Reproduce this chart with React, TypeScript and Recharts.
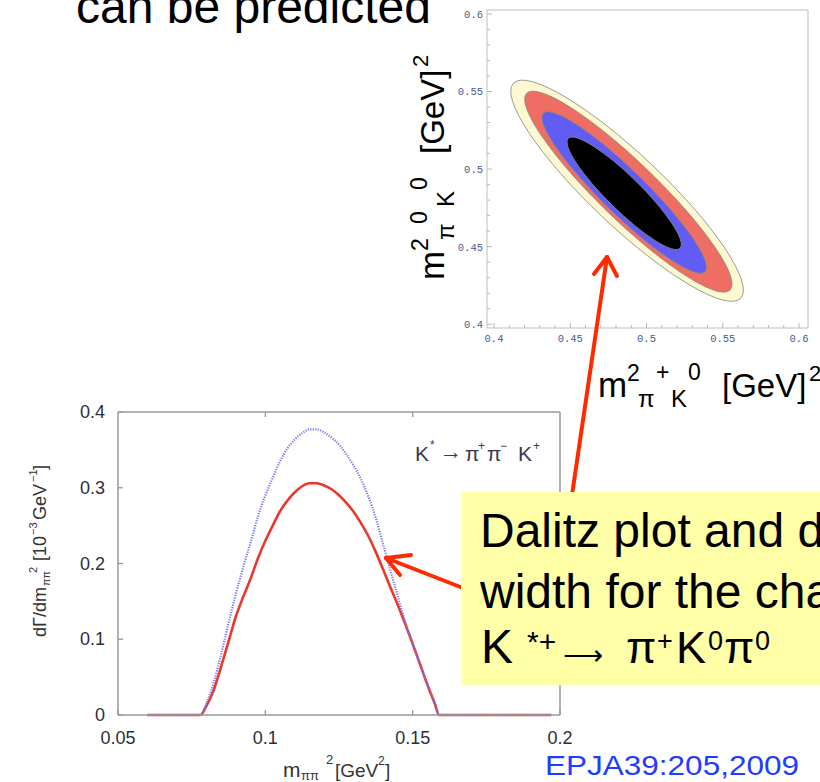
import React from "react";
import { LineChart, Line, XAxis, YAxis, ScatterChart, Scatter } from "recharts";

const SANS = "'Liberation Sans', Arial, Helvetica, sans-serif";
const MONO = "'Liberation Mono', 'Courier New', monospace";

// lower plot: dGamma/dm_pipi^2 [10^-3 GeV^-1] vs m_pipi^2 [GeV^2]
const massSq = [
  0.06, 0.065, 0.07, 0.075, 0.078, 0.08, 0.0825, 0.085, 0.0875, 0.09, 0.0925, 0.095,
  0.0975, 0.1, 0.1025, 0.105, 0.1075, 0.11, 0.1125, 0.115, 0.1175, 0.12, 0.1225, 0.125,
  0.1275, 0.13, 0.1325, 0.135, 0.1375, 0.14, 0.1425, 0.145, 0.1475, 0.15, 0.1525, 0.155,
  0.1575, 0.159, 0.165, 0.17, 0.175, 0.18, 0.185, 0.19, 0.197,
];
// blue dotted curve
const widthDotted = [
  0, 0, 0, 0, 0, 0.015, 0.043, 0.08, 0.121, 0.16, 0.195, 0.228,
  0.262, 0.29, 0.313, 0.335, 0.352, 0.364, 0.372, 0.377, 0.377, 0.373, 0.366, 0.357,
  0.344, 0.329, 0.311, 0.288, 0.26, 0.225, 0.19, 0.156, 0.123, 0.094, 0.067, 0.04,
  0.017, 0, 0, 0, 0, 0, 0, 0, 0,
];
// red solid curve
const widthSolid = [
  0, 0, 0, 0, 0, 0.012, 0.033, 0.064, 0.097, 0.13, 0.156, 0.18,
  0.207, 0.23, 0.25, 0.269, 0.283, 0.294, 0.302, 0.306, 0.306, 0.303, 0.298, 0.29,
  0.28, 0.268, 0.253, 0.236, 0.215, 0.192, 0.168, 0.145, 0.12, 0.094, 0.067, 0.04,
  0.015, 0, 0, 0, 0, 0, 0, 0, 0,
];
const lowerXTicks = [0.05, 0.1, 0.15, 0.2];
const lowerYTicks = [0, 0.1, 0.2, 0.3, 0.4];

// Dalitz contours: both ends of the long axis, then the end of the short axis
const outerX = [0.4127, 0.5618, 0.5034];
const outerY = [0.5553, 0.4168, 0.5029];
const redX = [0.4214, 0.5548, 0.5013];
const redY = [0.5488, 0.4221, 0.4988];
const blueX = [0.4323, 0.5384, 0.4955];
const blueY = [0.536, 0.4339, 0.495];
const coreX = [0.4487, 0.522, 0.4931];
const coreY = [0.5198, 0.449, 0.4922];

const dalitzMajor = [0.4, 0.45, 0.5, 0.55, 0.6];
const dalitzTicks = [
  0.4, 0.41, 0.42, 0.43, 0.44, 0.45, 0.46, 0.47, 0.48, 0.49, 0.5,
  0.51, 0.52, 0.53, 0.54, 0.55, 0.56, 0.57, 0.58, 0.59, 0.6,
];

const lowerData = massSq.map((m, i) => ({ m, dotted: widthDotted[i], solid: widthSolid[i] }));
const toPts = (xs: number[], ys: number[]) => xs.map((x, i) => ({ x, y: ys[i] }));

const contours = [
  { key: "outer", fill: "#fdf8d2", pts: toPts(outerX, outerY) },
  { key: "red", fill: "#ee6e64", pts: toPts(redX, redY) },
  { key: "blue", fill: "#615cf3", pts: toPts(blueX, blueY) },
  { key: "core", fill: "#000000", pts: toPts(coreX, coreY) },
];

const isMajor = (v: number) => dalitzMajor.some((t) => Math.abs(t - v) < 1e-6);
const fmtDalitz = (v: number) => String(Math.round(v * 100) / 100);

// ellipse through the three pixel points the Scatter hands over
function ellipseLine(fill: string) {
  return (p: any) => {
    const pts = p.points as { x: number; y: number }[];
    if (!pts || pts.length < 3) return <g />;
    const [a, b, c] = pts;
    const dx = b.x - a.x;
    const dy = b.y - a.y;
    const len = Math.hypot(dx, dy);
    const ry = Math.abs((c.x - a.x) * dy - (c.y - a.y) * dx) / len;
    const cx = (a.x + b.x) / 2;
    const cy = (a.y + b.y) / 2;
    const ang = (Math.atan2(dy, dx) * 180) / Math.PI;
    return (
      <ellipse
        cx={cx}
        cy={cy}
        rx={len / 2}
        ry={ry}
        transform={`rotate(${ang} ${cx} ${cy})`}
        fill={fill}
        stroke="#8a8a80"
        strokeWidth={0.8}
      />
    );
  };
}

const noDot = () => <g />;

// ---- tick renderers ----
const LowerBottomTick = ({ x, y, payload }: any) => (
  <g>
    <line x1={x} x2={x} y1={y} y2={y - 5} stroke="#999" strokeWidth={1.3} />
    <text x={x} y={y + 29} textAnchor="middle" fontSize={18} fill="#2e2e3a" fontFamily={SANS}>
      {payload.value}
    </text>
  </g>
);
const LowerTopTick = ({ x, y }: any) => (
  <line x1={x} x2={x} y1={y} y2={y + 5} stroke="#999" strokeWidth={1.3} />
);
const LowerLeftTick = ({ x, y, payload }: any) => (
  <g>
    <line x1={x} x2={x + 5} y1={y} y2={y} stroke="#999" strokeWidth={1.3} />
    <text x={x - 13} y={y + 6} textAnchor="end" fontSize={18} fill="#2e2e3a" fontFamily={SANS}>
      {payload.value}
    </text>
  </g>
);
const LowerRightTick = ({ x, y }: any) => (
  <line x1={x} x2={x - 5} y1={y} y2={y} stroke="#999" strokeWidth={1.3} />
);

const DalitzBottomTick = ({ x, y, payload }: any) => {
  const major = isMajor(payload.value);
  return (
    <g>
      <line x1={x} x2={x} y1={y} y2={y - (major ? 5 : 3)} stroke="#b8b8b8" />
      {major && (
        <text x={x} y={y + 14} textAnchor="middle" fontSize={10.5} fill="#4d5890" fontFamily={MONO}>
          {fmtDalitz(payload.value)}
        </text>
      )}
    </g>
  );
};
const DalitzTopTick = ({ x, y, payload }: any) => (
  <line x1={x} x2={x} y1={y} y2={y + (isMajor(payload.value) ? 5 : 3)} stroke="#b8b8b8" />
);
const DalitzLeftTick = ({ x, y, payload }: any) => {
  const major = isMajor(payload.value);
  return (
    <g>
      <line x1={x} x2={x + (major ? 5 : 3)} y1={y} y2={y} stroke="#b8b8b8" />
      {major && (
        <text x={x - 4} y={y + 4} textAnchor="end" fontSize={10.5} fill="#4d5890" fontFamily={MONO}>
          {fmtDalitz(payload.value)}
        </text>
      )}
    </g>
  );
};
const DalitzRightTick = ({ x, y, payload }: any) => (
  <line x1={x} x2={x - (isMajor(payload.value) ? 5 : 3)} y1={y} y2={y} stroke="#b8b8b8" />
);

function Arrow({ from, to, wings }: { from: number[]; to: number[]; wings: number[][] }) {
  return (
    <g stroke="#ff2a00" strokeWidth={4} strokeLinecap="round" fill="none">
      <line x1={from[0]} y1={from[1]} x2={to[0]} y2={to[1]} />
      {wings.map((w, i) => (
        <line key={i} x1={to[0]} y1={to[1]} x2={w[0]} y2={w[1]} />
      ))}
    </g>
  );
}

export default function App() {
  const frame = { stroke: "#999", strokeWidth: 1.5 };
  const dFrame = { stroke: "#bdbdbd", strokeWidth: 1 };
  return (
    <div
      style={{
        position: "absolute",
        left: 0,
        top: 0,
        width: 820,
        height: 782,
        background: "#fff",
        overflow: "hidden",
      }}
    >
      {/* Dalitz plot */}
      <div style={{ position: "absolute", left: 440, top: 0 }}>
        <ScatterChart width={380} height={360} margin={{ top: 6, right: 8, left: 0, bottom: 4 }}>
          <XAxis
            xAxisId="b"
            dataKey="x"
            type="number"
            domain={[0.3954, 0.6059]}
            ticks={dalitzTicks}
            interval={0}
            height={28}
            tickSize={0}
            tickMargin={0}
            tickLine={false}
            axisLine={dFrame}
            tick={<DalitzBottomTick />}
          />
          <XAxis
            xAxisId="t"
            orientation="top"
            dataKey="x"
            type="number"
            domain={[0.3954, 0.6059]}
            ticks={dalitzTicks}
            interval={0}
            height={4}
            tickSize={0}
            tickMargin={0}
            tickLine={false}
            axisLine={dFrame}
            tick={<DalitzTopTick />}
          />
          <YAxis
            yAxisId="l"
            dataKey="y"
            type="number"
            domain={[0.3976, 0.6025]}
            ticks={dalitzTicks}
            interval={0}
            width={47}
            tickSize={0}
            tickMargin={0}
            tickLine={false}
            axisLine={dFrame}
            tick={<DalitzLeftTick />}
          />
          <YAxis
            yAxisId="r"
            orientation="right"
            dataKey="y"
            type="number"
            domain={[0.3976, 0.6025]}
            ticks={dalitzTicks}
            interval={0}
            width={4}
            tickSize={0}
            tickMargin={0}
            tickLine={false}
            axisLine={dFrame}
            tick={<DalitzRightTick />}
          />
          {contours.map((c) => (
            <Scatter
              key={c.key}
              xAxisId="b"
              yAxisId="l"
              data={c.pts}
              fill={c.fill}
              line={ellipseLine(c.fill)}
              lineType="joint"
              shape={noDot}
              isAnimationActive={false}
            />
          ))}
        </ScatterChart>
      </div>

      {/* decay width plot */}
      <div style={{ position: "absolute", left: 0, top: 390 }}>
        <LineChart width={600} height={392} data={lowerData} margin={{ top: 12, right: 30, left: 0, bottom: 7 }}>
          <XAxis
            xAxisId="b"
            dataKey="m"
            type="number"
            domain={[0.05, 0.2]}
            ticks={lowerXTicks}
            interval={0}
            height={60}
            tickSize={0}
            tickMargin={0}
            tickLine={false}
            axisLine={frame}
            tick={<LowerBottomTick />}
          />
          <XAxis
            xAxisId="t"
            orientation="top"
            dataKey="m"
            type="number"
            domain={[0.05, 0.2]}
            ticks={[0.1, 0.15]}
            interval={0}
            height={10}
            tickSize={0}
            tickMargin={0}
            tickLine={false}
            axisLine={frame}
            tick={<LowerTopTick />}
          />
          <YAxis
            yAxisId="l"
            type="number"
            domain={[0, 0.4]}
            ticks={lowerYTicks}
            interval={0}
            width={118}
            tickSize={0}
            tickMargin={0}
            tickLine={false}
            axisLine={frame}
            tick={<LowerLeftTick />}
          />
          <YAxis
            yAxisId="r"
            orientation="right"
            type="number"
            domain={[0, 0.4]}
            ticks={[0.1, 0.2, 0.3]}
            interval={0}
            width={10}
            tickSize={0}
            tickMargin={0}
            tickLine={false}
            axisLine={frame}
            tick={<LowerRightTick />}
          />
          <Line
            xAxisId="b"
            yAxisId="l"
            dataKey="solid"
            type="monotone"
            stroke="#e8392f"
            strokeWidth={2.6}
            dot={false}
            isAnimationActive={false}
          />
          <Line
            xAxisId="b"
            yAxisId="l"
            dataKey="dotted"
            type="monotone"
            stroke="#7478f2"
            strokeWidth={2.2}
            strokeDasharray="1.2 1.3"
            dot={false}
            isAnimationActive={false}
          />
        </LineChart>
      </div>

      {/* slide text, titles and callout */}
      <svg
        width={820}
        height={782}
        style={{ position: "absolute", left: 0, top: 0, pointerEvents: "none" }}
        fontFamily={SANS}
      >
        <text x={76} y={23} fontSize={48} fill="#000">can be predicted</text>

        {/* Dalitz axis titles */}
        <text fill="#000">
          <tspan x={598} y={397} fontSize={35}>m</tspan>
          <tspan x={627} y={381} fontSize={23}>2</tspan>
          <tspan x={638} y={407} fontSize={24}>π</tspan>
          <tspan x={656} y={380} fontSize={23}>+</tspan>
          <tspan x={671} y={407} fontSize={24}>K</tspan>
          <tspan x={688} y={380} fontSize={23}>0</tspan>
          <tspan x={722} y={397} fontSize={33}>[GeV]</tspan>
          <tspan x={809} y={381} fontSize={22}>2</tspan>
        </text>
        <g transform="translate(444 280) rotate(-90)">
          <text fill="#000">
            <tspan x={0} y={0} fontSize={35}>m</tspan>
            <tspan x={29} y={-16} fontSize={23}>2</tspan>
            <tspan x={40} y={10} fontSize={24}>π</tspan>
            <tspan x={56} y={-17} fontSize={23}>0</tspan>
            <tspan x={73} y={10} fontSize={24}>K</tspan>
            <tspan x={90} y={-17} fontSize={23}>0</tspan>
            <tspan x={126} y={0} fontSize={33}>[GeV]</tspan>
            <tspan x={213} y={-16} fontSize={22}>2</tspan>
          </text>
        </g>

        {/* decay width axis titles and legend */}
        <text fill="#333">
          <tspan x={283} y={777} fontSize={21}>m</tspan>
          <tspan x={301} y={780} fontSize={13}>ππ</tspan>
          <tspan x={326} y={764} fontSize={13}>2</tspan>
          <tspan x={335} y={777} fontSize={19}>[GeV</tspan>
          <tspan x={378} y={765} fontSize={12}>2</tspan>
          <tspan x={385} y={777} fontSize={19}>]</tspan>
        </text>
        <g transform="translate(46 637) rotate(-90)">
          <text fill="#333">
            <tspan x={0} y={0} fontSize={18}>dΓ/dm</tspan>
            <tspan x={51} y={4} fontSize={11}>ππ</tspan>
            <tspan x={64} y={-9} fontSize={11}>2</tspan>
            <tspan x={76} y={0} fontSize={18}>[10</tspan>
            <tspan x={102} y={-9} fontSize={11}>−3</tspan>
            <tspan x={117} y={0} fontSize={18}>GeV</tspan>
            <tspan x={155} y={-9} fontSize={11}>−1</tspan>
            <tspan x={167} y={0} fontSize={18}>]</tspan>
          </text>
        </g>
        <text fill="#3a3a50" fontSize={21}>
          <tspan x={415} y={461}>K</tspan>
          <tspan x={430} y={449} fontSize={12}>*</tspan>
          <tspan x={439} y={459} fontSize={23}>→</tspan>
          <tspan x={465} y={461}>π</tspan>
          <tspan x={478} y={450} fontSize={12}>+</tspan>
          <tspan x={487} y={461}>π</tspan>
          <tspan x={500} y={450} fontSize={12}>−</tspan>
          <tspan x={518} y={461}>K</tspan>
          <tspan x={533} y={450} fontSize={12}>+</tspan>
        </text>

        <Arrow from={[572, 495]} to={[607, 257]} wings={[[594, 274], [617, 276]]} />
        <Arrow from={[463, 588]} to={[386, 558]} wings={[[411, 555], [400, 575]]} />

        <rect x={461} y={492} width={370} height={193} fill="#ffffa8" />
        <text fill="#000" fontSize={48}>
          <tspan x={480} y={547}>Dalitz plot and d</tspan>
          <tspan x={480} y={608}>width for the cha</tspan>
        </text>
        <text fill="#000">
          <tspan x={481} y={663} fontSize={48}>K</tspan>
          <tspan x={527} y={652} fontSize={30}>*+</tspan>
          <tspan x={563} y={665} fontSize={28}>⟶</tspan>
          <tspan x={626} y={663} fontSize={44}>π</tspan>
          <tspan x={657} y={650} fontSize={27}>+</tspan>
          <tspan x={676} y={663} fontSize={45}>K</tspan>
          <tspan x={708} y={650} fontSize={27}>0</tspan>
          <tspan x={724} y={663} fontSize={44}>π</tspan>
          <tspan x={755} y={650} fontSize={27}>0</tspan>
        </text>

        <text x={545} y={775} fontSize={27} fill="#1f3cff" textLength={254} lengthAdjust="spacingAndGlyphs">
          EPJA39:205,2009
        </text>
      </svg>
    </div>
  );
}
